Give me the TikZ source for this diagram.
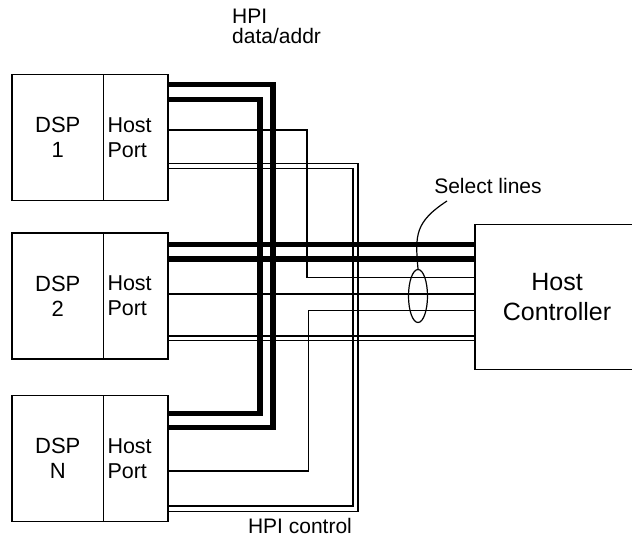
\documentclass[tikz,border=0pt]{standalone}
\usepackage{fontspec}
\setmainfont{Liberation Sans}
\usetikzlibrary{shapes.geometric}

\tikzset{
  dspbox/.style={draw, line width=1.2pt, minimum width=91.5pt, minimum height=126pt, inner sep=0pt, align=center, font=\fontsize{22}{25}\selectfont},
  portbox/.style={draw, line width=1.2pt, minimum height=126pt, inner xsep=4pt, text width=56.5pt, align=left, font=\fontsize{21.5}{25}\selectfont},
  bus/.style={line width=5.5pt},
  wire/.style={line width=1.2pt},
  lbl/.style={inner sep=0pt, font=\fontsize{21}{20}\selectfont}
}

\begin{document}
\begin{tikzpicture}[x=1pt,y=-1pt]
\useasboundingbox (0,0) rectangle (632,537);
\clip (0,0) rectangle (632,537);

\node[dspbox] (dsp1) at (57.75,137.5) {DSP\\1};
\node[portbox] (port1) at (135.75,137.5) {Host\\Port};
\node[dspbox] (dsp2) at (57.75,296) {DSP\\2};
\node[portbox] (port2) at (135.75,296) {Host\\Port};
\node[dspbox] (dsp3) at (57.75,458.5) {DSP\\N};
\node[portbox] (port3) at (135.75,458.5) {Host\\Port};

\node[draw, line width=1.2pt, minimum width=164pt, minimum height=145pt, align=center, font=\fontsize{25}{30}\selectfont] (host) at (557,297) {Host\\Controller};

\draw[bus] (port1.east |- 0,84.5) -- (273,84.5) -- (273,427.5) -- (port3.east |- 0,427.5);
\draw[bus] (port1.east |- 0,99.5) -- (260,99.5) -- (260,413.5) -- (port3.east |- 0,413.5);
\draw[bus] (port2.east |- 0,244.5) -- (host.west |- 0,244.5);
\draw[bus] (port2.east |- 0,259) -- (host.west |- 0,259);

\draw[wire] (port1.east |- 0,130) -- (307,130) -- (307,277.5) -- (host.west |- 0,277.5);
\draw[wire] (port2.east |- 0,294) -- (host.west |- 0,294);
\draw[wire] (port3.east |- 0,471) -- (308.5,471) -- (308.5,310.5) -- (host.west |- 0,310.5);

\draw[wire] (port1.east |- 0,163.5) -- (358,163.5) -- (358,511.5) -- (port3.east |- 0,511.5);
\draw[wire] (port1.east |- 0,168.5) -- (353,168.5) -- (353,506) -- (port3.east |- 0,506);
\draw[wire] (port2.east |- 0,336) -- (host.west |- 0,336);
\draw[wire] (port2.east |- 0,340.5) -- (host.west |- 0,340.5);

\node[draw, ellipse, line width=1.2pt, minimum width=19pt, minimum height=53pt, inner sep=0pt] (sel) at (418,296) {};
\node[lbl] (sellbl) at (488,186) {Select lines};
\coordinate (selend) at (447,201);
\draw[wire] (sel.north) .. controls (415,235) and (415,222) .. (selend);

\node[lbl, anchor=west, align=left] (hpidata) at (232,26) {HPI\\data/addr};
\node[lbl] (hpictl) at (300,526) {HPI control};
\end{tikzpicture}
\end{document}
